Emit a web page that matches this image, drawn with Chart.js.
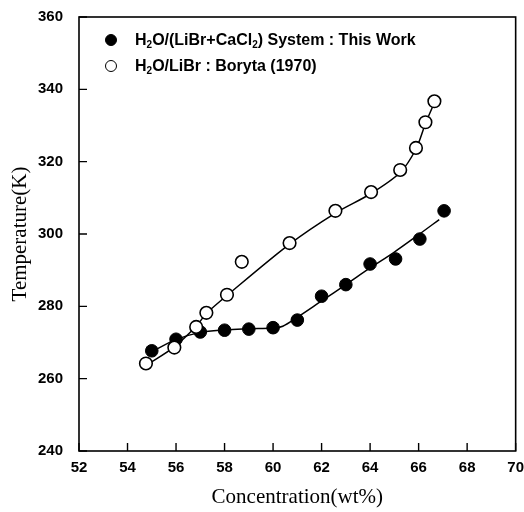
<!DOCTYPE html>
<html>
<head>
<meta charset="utf-8">
<script src="https://cdn.jsdelivr.net/npm/chart.js@4/dist/chart.umd.min.js"></script>
<style>
  html,body{margin:0;padding:0;background:#fff;}
  #wrap{position:relative;width:524px;height:512px;}
  #legend{position:absolute;left:104px;top:30px;font-family:"Liberation Sans",Arial,sans-serif;font-weight:bold;font-size:16px;color:#000;}
  .row{position:relative;height:26px;line-height:20px;padding-left:31px;white-space:nowrap;}
  .mk{position:absolute;left:1px;top:4px;width:12px;height:12px;border-radius:50%;box-sizing:border-box;border:1.6px solid #000;}
  .mk.f{background:#000;}
  .mk.o{background:#fff;}
  sub{font-size:10px;vertical-align:-3px;line-height:0;}
</style>
</head>
<body>
<div id="wrap">
<canvas id="c" width="524" height="512"></canvas>
<div id="legend">
  <div class="row"><span class="mk f"></span>H<sub>2</sub>O/(LiBr+CaCl<sub>2</sub>) System : This Work</div>
  <div class="row"><span class="mk o"></span>H<sub>2</sub>O/LiBr : Boryta (1970)</div>
</div>
</div>
<script>
// Measured data: H2O/(LiBr+CaCl2) system (this work)
const thisWorkX = [55.0, 56.0, 57.0, 58.0, 59.0, 60.0, 61.0, 62.0, 63.0, 64.0, 65.05, 66.05, 67.05];
const thisWorkY = [267.7, 270.9, 272.9, 273.4, 273.7, 274.1, 276.2, 282.8, 286.0, 291.7, 293.1, 298.6, 306.4];
// Boryta (1970) H2O/LiBr
const borytaX = [54.76, 55.93, 56.83, 57.25, 58.1, 58.71, 60.68, 62.57, 64.04, 65.24, 65.89, 66.28, 66.65];
const borytaY = [264.2, 268.6, 274.3, 278.2, 283.2, 292.3, 297.5, 306.4, 311.6, 317.7, 323.8, 330.9, 336.7];
// Fitted curves
const fitAX = [55.0, 56.0, 57.0, 58.0, 59.0, 60.0, 60.4, 61.0, 62.0, 63.0, 64.0, 65.0, 66.0, 66.85];
const fitAY = [267.5, 270.8, 272.8, 273.5, 273.8, 274.0, 274.5, 277.0, 281.5, 286.0, 290.6, 295.0, 299.8, 304.0];
const fitBX = [54.8, 55.93, 56.83, 57.25, 58.1, 60.68, 62.57, 64.04, 65.24, 65.89, 66.28, 66.65];
const fitBY = [263.8, 268.8, 274.5, 278.0, 283.0, 297.2, 305.8, 311.2, 317.0, 323.5, 330.5, 336.3];
// Axis ticks
const xTicks = [52, 54, 56, 58, 60, 62, 64, 66, 68, 70];
const yTicks = [240, 260, 280, 300, 320, 340, 360];

const pts = (xs, ys) => xs.map((x, i) => ({x: x, y: ys[i]}));

const framePlugin = {
  id: 'frame',
  afterDatasetsDraw(chart) {
    const {ctx, chartArea: a, scales} = chart;
    ctx.save();
    ctx.strokeStyle = '#000';
    ctx.lineWidth = 1.6;
    ctx.strokeRect(a.left, a.top, a.right - a.left, a.bottom - a.top);
    ctx.lineWidth = 1.4;
    ctx.beginPath();
    scales.x.ticks.forEach(t => {
      const px = scales.x.getPixelForValue(t.value);
      ctx.moveTo(px, a.bottom); ctx.lineTo(px, a.bottom - 8);
    });
    scales.y.ticks.forEach(t => {
      const py = scales.y.getPixelForValue(t.value);
      ctx.moveTo(a.left, py); ctx.lineTo(a.left + 8, py);
    });
    ctx.stroke();
    ctx.restore();
  }
};

new Chart(document.getElementById('c'), {
  type: 'scatter',
  data: {
    datasets: [
      {label: 'fitA', data: pts(fitAX, fitAY), showLine: true, borderColor: '#000', borderWidth: 1.5, pointRadius: 0, tension: 0.35, fill: false, order: 2},
      {label: 'fitB', data: pts(fitBX, fitBY), showLine: true, borderColor: '#000', borderWidth: 1.5, pointRadius: 0, tension: 0.3, fill: false, order: 2},
      {label: 'H2O/(LiBr+CaCl2) System : This Work', data: pts(thisWorkX, thisWorkY), showLine: false, pointRadius: 6.3, pointBackgroundColor: '#000', pointBorderColor: '#000', pointBorderWidth: 1, order: 1},
      {label: 'H2O/LiBr : Boryta (1970)', data: pts(borytaX, borytaY), showLine: false, pointRadius: 6.3, pointBackgroundColor: '#fff', pointBorderColor: '#000', pointBorderWidth: 1.6, order: 0}
    ]
  },
  options: {
    responsive: false,
    animation: false,
    devicePixelRatio: 1,
    layout: {padding: {top: 12, right: 6, left: 0, bottom: 0}},
    plugins: {legend: {display: false}, tooltip: {enabled: false}},
    scales: {
      x: {
        type: 'linear', min: 52, max: 70,
        afterBuildTicks: s => { s.ticks = xTicks.map(v => ({value: v})); },
        afterFit: s => { s.height = 61; },
        grid: {display: false},
        border: {display: false},
        ticks: {color: '#000', padding: 0, font: {family: '"Liberation Sans", Arial, sans-serif', size: 15, weight: 'bold'}},
        title: {display: true, text: 'Concentration(wt%)', color: '#000', font: {family: '"Liberation Serif", "Times New Roman", serif', size: 21}, padding: {top: 7, bottom: 2}}
      },
      y: {
        type: 'linear', min: 240, max: 360,
        afterBuildTicks: s => { s.ticks = yTicks.map(v => ({value: v})); },
        afterFit: s => { s.width = 79; },
        grid: {display: false},
        border: {display: false},
        ticks: {color: '#000', padding: 8, font: {family: '"Liberation Sans", Arial, sans-serif', size: 15, weight: 'bold'}},
        title: {display: true, text: 'Temperature(K)', color: '#000', font: {family: '"Liberation Serif", "Times New Roman", serif', size: 21}, padding: {top: 8, bottom: 0}}
      }
    }
  },
  plugins: [framePlugin]
});
</script>
</body>
</html>
